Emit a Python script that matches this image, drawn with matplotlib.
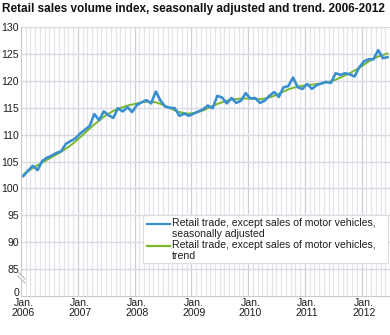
import numpy as np
import matplotlib
matplotlib.use("Agg")
import matplotlib.pyplot as plt
import matplotlib.transforms as mtransforms
from matplotlib.lines import Line2D
from matplotlib.patches import Rectangle, Polygon

# Monthly index, Jan. 2006 - Jun. 2012
seasonally_adjusted = [
    102.3, 103.3, 104.2, 103.4, 105.1, 105.7, 106.1, 106.6, 106.9, 108.3, 108.8, 109.3,
    110.2, 110.9, 111.6, 113.8, 112.7, 114.3, 113.6, 113.1, 114.9, 114.3, 115.1, 114.2,
    115.5, 116.0, 116.4, 115.8, 118.0, 116.3, 115.2, 115.0, 114.9, 113.5, 113.9, 113.5,
    113.9, 114.3, 114.7, 115.4, 114.9, 117.2, 116.9, 115.8, 116.8, 115.9, 116.3, 117.7,
    116.7, 116.8, 115.9, 116.3, 117.2, 117.9, 117.0, 118.8, 119.0, 120.6, 118.8, 118.5,
    119.4, 118.5, 119.2, 119.5, 119.8, 119.6, 121.4, 121.1, 121.4, 121.2, 120.8, 122.5,
    123.6, 124.0, 124.0, 125.7, 124.2, 124.4,
]
trend = [
    102.6, 103.2, 103.8, 104.3, 104.8, 105.3, 105.8, 106.3, 106.8, 107.4, 108.0, 108.7,
    109.5, 110.3, 111.1, 111.9, 112.6, 113.3, 113.9, 114.4, 114.8, 115.1, 115.4, 115.6,
    115.8, 116.0, 116.1, 116.1, 116.0, 115.7, 115.3, 114.9, 114.5, 114.2, 114.0, 113.9,
    114.0, 114.2, 114.5, 114.9, 115.3, 115.7, 116.0, 116.3, 116.5, 116.6, 116.7, 116.7,
    116.7, 116.6, 116.6, 116.7, 116.9, 117.2, 117.6, 118.0, 118.4, 118.7, 118.9, 119.1,
    119.2, 119.3, 119.4, 119.5, 119.7, 119.9, 120.2, 120.6, 121.0, 121.4, 121.9, 122.4,
    123.0, 123.6, 124.1, 124.5, 124.8, 125.1,
]
years = ["2006", "2007", "2008", "2009", "2010", "2011", "2012"]
y_ticks = [80, 85, 90, 95, 100, 105, 110, 115, 120, 125, 130]
y_tick_labels = ["0", "85", "90", "95", "100", "105", "110", "115", "120", "125", "130"]
series_names = [
    "Retail trade, except sales of motor vehicles,\nseasonally adjusted",
    "Retail trade, except sales of motor vehicles,\ntrend",
]

BLUE = "#3a8fd0"
GREEN = "#7ab82e"
TEXT = "#1e1e1e"
FS = 7.6
W, H = 390, 335

plt.rcParams["font.family"] = ["Liberation Sans", "DejaVu Sans"]
fig = plt.figure(figsize=(W / 100, H / 100), dpi=100)

def fx(px):
    return px / W

def fy(py):
    return 1 - py / H

ax = fig.add_axes([fx(21), fy(296), fx(390) - fx(21), fy(27) - fy(296)])
n = len(seasonally_adjusted)
x = np.arange(n)
ax.set_xlim(-0.5, n - 0.5)
ax.set_ylim(80, 130)

# grid: monthly light verticals, darker at year boundaries
for b in np.arange(0.5, n - 0.5, 1.0):
    yearly = (int(b + 0.5) % 12) == 0
    ax.axvline(b, color="#cdced6" if yearly else "#e3e4ec", lw=0.9, zorder=0)
for t in y_ticks[1:]:
    ax.axhline(t, color="#d9dae1", lw=1.0, zorder=0)

ax.plot(x, trend, color=GREEN, lw=1.4, zorder=3, solid_capstyle="round")
ax.plot(x, seasonally_adjusted, color=BLUE, lw=1.9, zorder=4, solid_joinstyle="round")

ax.set_yticks(y_ticks)
ax.set_yticklabels(y_tick_labels)
ax.set_xticks(np.arange(0, n, 12))
ax.set_xticklabels(["Jan.\n" + y for y in years])
ax.tick_params(axis="both", length=0, labelsize=FS, colors=TEXT)
ax.tick_params(axis="y", pad=1.5)
ax.tick_params(axis="x", pad=1.5)
for lab in ax.get_xticklabels():
    lab.set_linespacing(1.0)
# lift the "0" label slightly above the baseline
zero_lab = ax.get_yticklabels()[0]
zero_lab.set_transform(zero_lab.get_transform() +
                       mtransforms.ScaledTranslation(0, 4 / 100, fig.dpi_scale_trans))
for side in ["top", "right"]:
    ax.spines[side].set_visible(False)
ax.spines["left"].set_color("#c8c9d0")
ax.spines["bottom"].set_color("#c8c9d0")

# axis break marks between 0 and 85
brk = Polygon([[fx(18), fy(272)], [fx(25), fy(279)], [fx(25), fy(283)], [fx(18), fy(276)]],
              closed=True, transform=fig.transFigure, facecolor="white", edgecolor="none", zorder=10)
fig.patches.append(brk)
for off in (0, 4):
    fig.lines.append(Line2D([fx(18), fx(25)], [fy(272 + off), fy(279 + off)],
                            transform=fig.transFigure, color="#b5b6bd", lw=0.8, zorder=11))

# legend box
fig.patches.append(Rectangle((fx(143), fy(263)), fx(388) - fx(143), fy(215) - fy(263),
                             transform=fig.transFigure, facecolor="white",
                             edgecolor="#dcdde3", lw=0.8, zorder=12))
for i, (name, col) in enumerate(zip(series_names, [BLUE, GREEN])):
    yl = 224 + i * 22
    fig.lines.append(Line2D([fx(147), fx(170)], [fy(yl), fy(yl)], transform=fig.transFigure,
                            color=col, lw=1.6, zorder=13))
    fig.text(fx(172), fy(yl - 5.5), name, fontsize=FS, color=TEXT, va="top", ha="left",
             linespacing=1.05, zorder=13)

fig.text(fx(2), fy(9), "Retail sales volume index, seasonally adjusted and trend. 2006-2012",
         fontsize=8.5, fontweight="bold", color="#111111", va="center", ha="left")

fig.savefig("out.png", dpi=100)
